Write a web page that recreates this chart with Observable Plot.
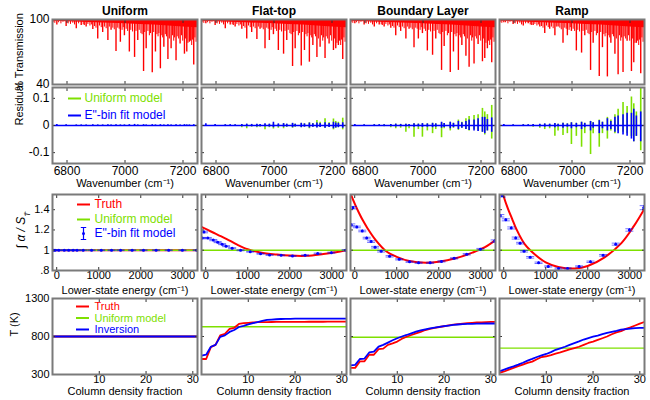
<!DOCTYPE html>
<html><head><meta charset="utf-8">
<script src="https://cdn.jsdelivr.net/npm/d3@7"></script>
<script src="https://cdn.jsdelivr.net/npm/@observablehq/plot@0.6"></script>
<style>
body{margin:0;background:#fff;}
#chart{position:relative;width:650px;height:400px;}
#chart svg{position:absolute;left:0;overflow:visible !important;background:transparent !important;}
</style></head><body><div id="chart"></div>
<script>
// ---------- categories / ticks ----------
const columns = ["Uniform", "Flat-top", "Boundary Layer", "Ramp"];
const wavenumberTicks = [6800, 7000, 7200];
const transmissionTicks = [40, 100];
const residualTicks = [-0.1, 0, 0.1];
const energyTicks = [0, 1000, 2000, 3000];
const ratioTicks = [0.8, 1, 1.2, 1.4];
const fractionTicks = [10, 20, 30];
const temperatureTicks = [300, 800, 1300];

// ---------- row 1: transmission spectra ----------
const linePositions = [6765, 6797, 6832, 6849, 6866, 6889, 6906, 6923, 6941, 6952, 6969, 6984, 6998, 7015, 7033, 7044, 7064, 7073, 7094, 7105, 7122, 7134, 7148, 7159, 7176, 7190, 7205, 7213, 7222, 7237];
const transUniform  = [95, 93.5, 91.4, 94.5, 93, 90.8, 82, 88, 80.6, 90, 70.5, 79, 85, 70, 65, 80.6, 52, 73, 50.8, 70, 54.5, 74.5, 63, 73, 62, 77.5, 68, 70, 79, 58];
const transFlatTop  = [96, 94.5, 91.4, 95, 93, 91, 82, 88, 81.5, 91, 73, 80.6, 86, 71.4, 68, 80.6, 56.6, 73, 57, 71.4, 60.6, 76, 65, 74.5, 64, 77.5, 71.4, 73, 76, 63];
const transBoundary = [96, 95, 93, 95, 93, 92, 85, 89, 82, 91, 74, 82, 87, 71, 67, 82, 53, 75, 51, 70, 53, 76, 66, 56, 59, 77, 61, 64, 73, 60];
const transRamp     = [97, 95.5, 94, 96, 94.5, 93, 87, 91, 85, 93, 78, 85, 89, 71, 69, 85, 53, 78, 47.5, 74, 47, 78, 68, 49, 51, 80, 52, 60, 78, 50];
const minorPositions = [6752, 6758, 6771, 6779, 6786, 6804, 6812, 6820, 6826, 6840, 6856, 6860, 6872, 6879, 6884, 6895, 6900, 6912, 6918, 6929, 6935, 6946, 6958, 6963, 6975, 6980, 6990, 6994, 7004, 7009, 7020, 7026, 7038, 7049, 7055, 7059, 7068, 7079, 7084, 7088, 7099, 7110, 7114, 7117, 7127, 7130, 7139, 7143, 7153, 7164, 7168, 7171, 7180, 7185, 7195, 7199, 7209, 7217, 7226, 7230, 7233, 7241, 7245];
const minorTrans = [97, 96.5, 97, 96, 97.5, 96, 95.5, 96.5, 95, 96, 95, 94.5, 95.5, 94, 95, 93.5, 92, 94, 92.5, 93, 91.5, 93, 92, 90.5, 92, 91, 90, 92.5, 91, 89, 90, 88.5, 89, 90, 87, 86, 88, 89, 85, 87, 88, 86, 84, 87, 85, 83, 86, 84, 82, 85, 80, 83, 84, 82, 85, 80, 82, 78, 80, 76, 81, 83, 79];
const bandWavenumber = [6750, 6800, 6850, 6900, 6950, 7000, 7050, 7100, 7150, 7200, 7250];
const bandTrans = [98.5, 98, 97.5, 97, 96.5, 96, 95.5, 95, 94, 93, 92.5];

// ---------- row 2: residuals (at the line positions) ----------
const greenHiUniform = [0.001,0.001,0.001,0.001,0.001,0.001,0.001,0.001,0.001,0.001,0.001,0.001,0.001,0.001,0.001,0.001,0.001,0.001,0.001,0.001,0.001,0.001,0.001,0.001,0.001,0.001,0.001,0.001,0.001,0.001];
const greenLoUniform = [-0.001,-0.001,-0.001,-0.001,-0.001,-0.001,-0.001,-0.001,-0.001,-0.001,-0.001,-0.001,-0.001,-0.001,-0.001,-0.001,-0.001,-0.001,-0.001,-0.001,-0.001,-0.001,-0.001,-0.001,-0.001,-0.001,-0.001,-0.001,-0.001,-0.001];
const blueHiUniform = [0.004,0.003,0.002,0.002,0.002,0.003,0.002,0.002,0.003,0.002,0.003,0.002,0.002,0.003,0.004,0.002,0.003,0.002,0.003,0.002,0.003,0.002,0.003,0.002,0.003,0.002,0.003,0.002,0.002,0.003];
const blueLoUniform = [-0.002,-0.002,-0.002,-0.002,-0.002,-0.002,-0.002,-0.002,-0.002,-0.002,-0.002,-0.002,-0.002,-0.002,-0.003,-0.002,-0.002,-0.002,-0.002,-0.002,-0.002,-0.002,-0.002,-0.002,-0.002,-0.002,-0.002,-0.002,-0.002,-0.002];
const greenHiFlatTop = [0.002,0.002,0.002,0.002,0.002,0.003,0.004,0.003,0.004,0.003,0.004,0.004,0.005,0.004,0.006,0.004,0.007,0.005,0.008,0.006,0.01,0.007,0.018,0.012,0.025,0.01,0.024,0.015,0.012,0.027];
const greenLoFlatTop = [-0.002,-0.003,-0.004,-0.003,-0.004,-0.008,-0.012,-0.006,-0.008,-0.006,-0.016,-0.008,-0.013,-0.01,-0.012,-0.007,-0.01,-0.006,-0.008,-0.006,-0.012,-0.006,-0.008,-0.006,-0.01,-0.006,-0.016,-0.01,-0.008,-0.016];
const blueHiFlatTop = [0.006,0.004,0.003,0.003,0.003,0.004,0.005,0.004,0.005,0.004,0.006,0.005,0.012,0.006,0.007,0.005,0.008,0.005,0.008,0.006,0.009,0.006,0.009,0.007,0.01,0.007,0.012,0.009,0.008,0.01];
const blueLoFlatTop = [-0.003,-0.003,-0.003,-0.003,-0.003,-0.004,-0.004,-0.004,-0.005,-0.004,-0.005,-0.005,-0.008,-0.005,-0.006,-0.005,-0.008,-0.005,-0.008,-0.006,-0.009,-0.006,-0.009,-0.007,-0.01,-0.007,-0.012,-0.009,-0.008,-0.01];
const greenHiBoundary = [0.002,0.002,0.003,0.002,0.003,0.004,0.005,0.004,0.005,0.004,0.006,0.005,0.006,0.006,0.008,0.006,0.01,0.007,0.012,0.008,0.02,0.012,0.025,0.033,0.037,0.04,0.063,0.05,0.04,0.074];
const greenLoBoundary = [-0.002,-0.003,-0.004,-0.003,-0.005,-0.008,-0.012,-0.01,-0.025,-0.012,-0.043,-0.015,-0.043,-0.02,-0.03,-0.015,-0.045,-0.012,-0.02,-0.01,-0.018,-0.01,-0.015,-0.02,-0.015,-0.02,-0.025,-0.035,-0.02,-0.05];
const blueHiBoundary = [0.004,0.003,0.003,0.003,0.003,0.004,0.005,0.004,0.005,0.004,0.006,0.005,0.007,0.006,0.008,0.006,0.012,0.007,0.012,0.008,0.015,0.01,0.015,0.02,0.02,0.025,0.03,0.03,0.022,0.028];
const blueLoBoundary = [-0.003,-0.003,-0.003,-0.003,-0.003,-0.004,-0.005,-0.004,-0.005,-0.004,-0.006,-0.005,-0.007,-0.006,-0.008,-0.006,-0.01,-0.007,-0.012,-0.008,-0.015,-0.01,-0.015,-0.018,-0.02,-0.022,-0.025,-0.03,-0.02,-0.025];
const greenHiRamp = [0.002,0.002,0.003,0.002,0.003,0.004,0.005,0.004,0.006,0.005,0.008,0.006,0.01,0.008,0.012,0.008,0.015,0.01,0.02,0.012,0.03,0.02,0.04,0.06,0.085,0.07,0.105,0.08,0.05,0.137];
const greenLoRamp = [-0.002,-0.003,-0.004,-0.003,-0.006,-0.01,-0.015,-0.012,-0.04,-0.02,-0.037,-0.03,-0.07,-0.04,-0.08,-0.03,-0.107,-0.03,-0.08,-0.03,-0.05,-0.02,-0.03,-0.02,-0.025,-0.03,-0.04,-0.06,-0.04,-0.093];
const blueHiRamp = [0.004,0.003,0.003,0.003,0.004,0.005,0.006,0.005,0.007,0.005,0.008,0.006,0.01,0.008,0.012,0.008,0.015,0.01,0.018,0.012,0.025,0.015,0.03,0.035,0.04,0.045,0.045,0.06,0.035,0.05];
const blueLoRamp = [-0.003,-0.003,-0.003,-0.003,-0.004,-0.005,-0.006,-0.005,-0.008,-0.005,-0.01,-0.006,-0.012,-0.008,-0.015,-0.008,-0.02,-0.01,-0.03,-0.012,-0.02,-0.015,-0.025,-0.03,-0.035,-0.04,-0.05,-0.06,-0.04,-0.06];

// ---------- row 3: line strength ratio vs lower-state energy ----------
const energyBins = [-40, -80, 50, 180, 285, 390, 485, 630, 830, 1060, 1305, 1520, 1795, 2065, 2365, 2665, 2990, 3330];
const ratioUniform  = [1, 1, 1, 1, 1, 1, 1, 1, 1, 1, 1, 1, 1, 1, 1, 1, 1, 1];
const ratioFlatTop  = [1.18, 1.12, 1.12, 1.10, 1.08, 1.06, 1.04, 1.02, 1.00, 0.985, 0.965, 0.953, 0.95, 0.943, 0.95, 0.967, 0.976, 1.0];
const ratioBoundary = [1.42, 1.25, 1.23, 1.19, 1.12, 1.085, 1.03, 0.99, 0.94, 0.91, 0.886, 0.876, 0.876, 0.89, 0.92, 0.96, 1.01, 1.09];
const ratioRamp     = [1.54, 1.34, 1.30, 1.22, 1.12, 1.07, 0.99, 0.93, 0.876, 0.84, 0.82, 0.82, 0.84, 0.886, 0.95, 1.06, 1.20, 1.42];
const errUniform  = [0.004, 0.004, 0.004, 0.004, 0.004, 0.004, 0.004, 0.004, 0.004, 0.004, 0.004, 0.004, 0.004, 0.004, 0.004, 0.004, 0.004, 0.004];
const errFlatTop  = [0.008, 0.006, 0.006, 0.006, 0.005, 0.005, 0.005, 0.005, 0.005, 0.004, 0.004, 0.004, 0.004, 0.004, 0.004, 0.005, 0.005, 0.006];
const errBoundary = [0.012, 0.01, 0.008, 0.008, 0.008, 0.008, 0.008, 0.008, 0.007, 0.006, 0.006, 0.006, 0.006, 0.006, 0.006, 0.007, 0.008, 0.012];
const errRamp     = [0.015, 0.012, 0.01, 0.01, 0.01, 0.008, 0.008, 0.008, 0.007, 0.006, 0.006, 0.006, 0.006, 0.007, 0.008, 0.01, 0.012, 0.02];
const truthEnergy = [-100, 0, 100, 200, 300, 500, 750, 1000, 1300, 1700, 2000, 2400, 2800, 3100, 3350];
const truthRatioUniform  = [1, 1, 1, 1, 1, 1, 1, 1, 1, 1, 1, 1, 1, 1, 1];
const truthRatioFlatTop  = [1.23, 1.21, 1.19, 1.17, 1.15, 1.11, 1.055, 1.01, 0.978, 0.957, 0.947, 0.945, 0.963, 0.98, 1.0];
const truthRatioBoundary = [1.56, 1.46, 1.37, 1.29, 1.22, 1.10, 0.99, 0.935, 0.893, 0.876, 0.886, 0.92, 0.976, 1.03, 1.10];
const truthRatioRamp     = [1.68, 1.53, 1.41, 1.31, 1.21, 1.06, 0.955, 0.88, 0.835, 0.82, 0.845, 0.93, 1.07, 1.24, 1.41];
const uniformModelRatio = [1, 1, 1, 1];

// ---------- row 4: temperature profiles ----------
const columnFraction = [0, 1, 2, 3, 4, 5, 6, 7, 8, 9, 10, 11, 12, 13, 14, 15, 16, 17, 18, 19, 20, 21, 22, 23, 24, 25, 26, 27, 28, 29, 30, 31];
const truthTUniform  = [800, 800, 800, 800, 800, 800, 800, 800, 800, 800, 800, 800, 800, 800, 800, 800, 800, 800, 800, 800, 800, 800, 800, 800, 800, 800, 800, 800, 800, 800, 800, 800];
const invTUniform    = [800, 800, 800, 800, 800, 800, 800, 800, 800, 800, 800, 800, 800, 800, 800, 800, 800, 800, 800, 800, 800, 800, 800, 800, 800, 800, 800, 800, 800, 800, 800, 800];
const truthTFlatTop  = [504, 504, 660, 690, 815, 835, 900, 915, 965, 975, 980, 985, 988, 990, 990, 991, 992, 992, 992, 993, 993, 993, 993, 994, 994, 994, 994, 995, 995, 995, 995, 995];
const invTFlatTop    = [547, 560, 665, 690, 795, 815, 860, 885, 925, 940, 960, 975, 990, 1005, 1018, 1023, 1027, 1030, 1032, 1033, 1034, 1035, 1035, 1036, 1036, 1036, 1036, 1036, 1036, 1036, 1036, 1036];
const truthTBoundary = [387, 387, 473, 473, 560, 560, 634, 640, 690, 710, 733, 770, 797, 820, 841, 860, 885, 900, 912, 925, 935, 945, 955, 962, 968, 975, 980, 984, 987, 990, 992, 993];
const invTBoundary   = [421, 426, 504, 510, 590, 600, 668, 690, 720, 750, 777, 800, 820, 842, 863, 880, 895, 906, 918, 928, 936, 944, 952, 958, 962, 965, 967, 969, 970, 971, 971, 971];
const truthTRamp     = [322, 340, 365, 387, 410, 430, 452, 470, 500, 530, 540, 555, 575, 590, 610, 630, 647, 665, 690, 715, 733, 755, 777, 800, 830, 855, 870, 900, 920, 945, 970, 992];
const invTRamp       = [343, 365, 388, 408, 430, 455, 482, 505, 530, 552, 570, 595, 625, 645, 665, 690, 712, 735, 760, 780, 797, 812, 830, 848, 862, 875, 890, 898, 905, 910, 913, 915];
const uniformModelT = [800, 928, 790, 647];

// ---------- tidy tables built from the arrays ----------
const transByCol = [transUniform, transFlatTop, transBoundary, transRamp];
const spectrum = columns.flatMap((c, j) => linePositions.map((w, i) => ({col: c, wn: w, t: transByCol[j][i]})));
const minorLines = columns.flatMap(c => minorPositions.map((w, i) => ({col: c, wn: w, t: minorTrans[i]})));
const band = columns.flatMap(c => bandWavenumber.map((w, i) => ({col: c, wn: w, t: bandTrans[i]})));
const resid = [
  [greenHiUniform, greenLoUniform, blueHiUniform, blueLoUniform],
  [greenHiFlatTop, greenLoFlatTop, blueHiFlatTop, blueLoFlatTop],
  [greenHiBoundary, greenLoBoundary, blueHiBoundary, blueLoBoundary],
  [greenHiRamp, greenLoRamp, blueHiRamp, blueLoRamp]
];
const residuals = columns.flatMap((c, j) => linePositions.map((w, i) => ({col: c, wn: w, gHi: resid[j][0][i], gLo: resid[j][1][i], bHi: resid[j][2][i], bLo: resid[j][3][i]})));
const ratioByCol = [ratioUniform, ratioFlatTop, ratioBoundary, ratioRamp];
const errByCol = [errUniform, errFlatTop, errBoundary, errRamp];
const ratioPoints = columns.flatMap((c, j) => energyBins.map((e, i) => ({col: c, e, r: ratioByCol[j][i], lo: ratioByCol[j][i] - errByCol[j][i], hi: ratioByCol[j][i] + errByCol[j][i]})));
const truthRatioByCol = [truthRatioUniform, truthRatioFlatTop, truthRatioBoundary, truthRatioRamp];
const truthRatio = columns.flatMap((c, j) => truthEnergy.map((e, i) => ({col: c, e, r: truthRatioByCol[j][i]})));
const uniformRatioRows = columns.map((c, j) => ({col: c, r: uniformModelRatio[j]}));
const truthTByCol = [truthTUniform, truthTFlatTop, truthTBoundary, truthTRamp];
const invTByCol = [invTUniform, invTFlatTop, invTBoundary, invTRamp];
const temps = columns.flatMap((c, j) => columnFraction.map((f, i) => ({col: c, f, truth: truthTByCol[j][i], inv: invTByCol[j][i]})));
const uniformTRows = columns.map((c, j) => ({col: c, t: uniformModelT[j]}));

// ---------- styling ----------
const RED = "#ff0000", GREEN = "#7ee000", BLUE = "#0000ff", FRAME = "#7a7a7a";
const FONT = '"Liberation Sans", Arial, Helvetica, sans-serif';
const style = {fontFamily: FONT, fontSize: "12px", background: "transparent", overflow: "visible", color: "#000"};
const fx = {domain: columns, paddingInner: 0.025, paddingOuter: 0, axis: null};
const hLine = {draw(ctx, size) { const w = Math.sqrt(size / Math.PI); ctx.moveTo(-w, 0); ctx.lineTo(w, 0); }};
const errGlyph = {draw(ctx, size) { const w = Math.sqrt(size / Math.PI); ctx.moveTo(0, -w); ctx.lineTo(0, w); ctx.moveTo(-w * 0.45, -w); ctx.lineTo(w * 0.45, -w); ctx.moveTo(-w * 0.45, w); ctx.lineTo(w * 0.45, w); }};
const first = [columns[0]];
const plain = d => String(d);

function innerTicks(xTicks, yTicks) {
  const s = {stroke: "#333", strokeWidth: 1, tickSize: 3, label: null, fill: "none", tickFormat: () => ""};
  return [
    Plot.axisX({...s, anchor: "bottom", ticks: xTicks, dy: -3}),
    Plot.axisX({...s, anchor: "top", ticks: xTicks, dy: 3}),
    Plot.axisY({...s, anchor: "left", ticks: yTicks, dx: 3, facetAnchor: null}),
    Plot.axisY({...s, anchor: "right", ticks: yTicks, dx: -3, facetAnchor: null})
  ];
}
function legendLine(color, dx, dy, label, tdx, fontSize = 12) {
  return [
    Plot.dot(first, {fx: d => d, frameAnchor: "top-left", dx, dy, symbol: hLine, r: 6.5, stroke: color, strokeWidth: 2, fill: "none"}),
    Plot.text(first, {fx: d => d, text: () => label, frameAnchor: "top-left", dx: tdx, dy, fill: color, textAnchor: "start", lineAnchor: "middle", fontSize})
  ];
}
function xLabel(text, dy) {
  return Plot.text(columns, {fx: d => d, text: () => text, frameAnchor: "bottom", lineAnchor: "top", dy, fontSize: 11});
}
function yLabel(text, dx, dy = 0) {
  return Plot.text(first, {fx: d => d, text: () => text, frameAnchor: "left", rotate: -90, dx, dy, fontSize: 11});
}
const frame = () => Plot.frame({stroke: FRAME, strokeWidth: 2});

// ---------- row 1 ----------
const row1 = Plot.plot({
  width: 650, height: 96, marginLeft: 51, marginRight: 4, marginTop: 19, marginBottom: 12,
  fx, style,
  x: {domain: [6750, 7250]},
  y: {domain: [40, 100]},
  marks: [
    Plot.areaY(band, {fx: "col", x: "wn", y1: 100, y2: "t", fill: RED, clip: true}),
    Plot.ruleX(minorLines, {fx: "col", x: "wn", y1: 100, y2: "t", stroke: RED, strokeWidth: 1, clip: true}),
    Plot.ruleX(spectrum, {fx: "col", x: "wn", y1: 100, y2: "t", stroke: RED, strokeWidth: 1.4, clip: true}),
    ...innerTicks(wavenumberTicks, transmissionTicks),
    Plot.axisY({anchor: "left", ticks: transmissionTicks, tickSize: 0, tickPadding: 3, label: null, tickFormat: plain}),
    frame(),
    Plot.text(columns, {fx: d => d, text: d => d, frameAnchor: "top", dy: -8, fontWeight: "bold", lineAnchor: "middle", fontSize: 12})
  ]
});
d3.select(row1).append("text")
  .attr("transform", "translate(19,52) rotate(-90)")
  .attr("text-anchor", "middle").attr("dominant-baseline", "central")
  .attr("font-family", FONT).attr("font-size", 11).attr("fill", "#000")
  .text("% Transmission");

// ---------- row 2 ----------
const row2 = Plot.plot({
  width: 650, height: 108, marginLeft: 51, marginRight: 4, marginTop: 2, marginBottom: 30,
  fx, style,
  x: {domain: [6750, 7250]},
  y: {domain: [-0.14, 0.14]},
  marks: [
    Plot.ruleX(residuals, {fx: "col", x: "wn", y1: "gLo", y2: "gHi", stroke: GREEN, strokeWidth: 1.6, clip: true}),
    Plot.ruleY([0], {y: d => d, stroke: BLUE, strokeWidth: 1.6}),
    Plot.ruleX(residuals, {fx: "col", x: "wn", y1: "bLo", y2: "bHi", stroke: BLUE, strokeWidth: 1.6, clip: true}),
    ...innerTicks(wavenumberTicks, residualTicks),
    Plot.axisY({anchor: "left", ticks: residualTicks, tickSize: 0, tickPadding: 3, label: null, tickFormat: plain}),
    Plot.axisX({anchor: "bottom", ticks: wavenumberTicks, tickSize: 0, tickPadding: 3, label: null, tickFormat: plain}),
    frame(),
    ...legendLine(GREEN, 22, 11, "Uniform model", 32),
    ...legendLine(BLUE, 22, 28, "E\"-bin fit model", 32),
    xLabel("Wavenumber (cm⁻¹)", 16),
    yLabel("Residual", -33)
  ]
});

// ---------- row 3 ----------
const row3 = Plot.plot({
  width: 650, height: 108, marginLeft: 51, marginRight: 4, marginTop: 4, marginBottom: 28,
  fx, style: {...style, fontSize: "11px"},
  x: {domain: [-100, 3350]},
  y: {domain: [0.8, 1.55]},
  marks: [
    Plot.line(truthRatio, {fx: "col", x: "e", y: "r", stroke: RED, strokeWidth: 2, curve: "catmull-rom", clip: true}),
    Plot.ruleY(uniformRatioRows, {fx: "col", y: "r", stroke: GREEN, strokeWidth: 1.3}),
    Plot.ruleX(ratioPoints, {fx: "col", x: "e", y1: "lo", y2: "hi", stroke: BLUE, strokeWidth: 1, clip: true}),
    Plot.dot(ratioPoints, {fx: "col", x: "e", y: "lo", symbol: hLine, r: 4, stroke: BLUE, strokeOpacity: 0.55, strokeWidth: 1, fill: "none", clip: true}),
    Plot.dot(ratioPoints, {fx: "col", x: "e", y: "hi", symbol: hLine, r: 4, stroke: BLUE, strokeOpacity: 0.55, strokeWidth: 1, fill: "none", clip: true}),
    Plot.dot(ratioPoints, {fx: "col", x: "e", y: "r", r: 1.5, fill: BLUE, stroke: "none", clip: true}),
    ...innerTicks(energyTicks, ratioTicks),
    Plot.axisY({anchor: "left", ticks: ratioTicks, tickSize: 0, tickPadding: 3, label: null, tickFormat: d => d === 0.8 ? ".8" : String(d)}),
    Plot.axisX({anchor: "bottom", ticks: energyTicks, tickSize: 0, tickPadding: 1, label: null, tickFormat: plain}),
    frame(),
    ...legendLine(RED, 31, 10, "Truth", 42),
    ...legendLine(GREEN, 31, 25, "Uniform model", 42),
    Plot.dot(first, {fx: d => d, frameAnchor: "top-left", dx: 31, dy: 39, symbol: errGlyph, r: 6, stroke: BLUE, strokeWidth: 1.2, fill: "none"}),
    Plot.dot(first, {fx: d => d, frameAnchor: "top-left", dx: 31, dy: 39, r: 1.5, fill: BLUE}),
    Plot.text(first, {fx: d => d, text: () => "E\"-bin fit model", frameAnchor: "top-left", dx: 42, dy: 39, fill: BLUE, textAnchor: "start", lineAnchor: "middle", fontSize: 12}),
    xLabel("Lower-state energy (cm⁻¹)", 16)
  ]
});
{
  const lab = d3.select(row3).append("text")
    .attr("transform", "translate(25,40) rotate(-90)")
    .attr("text-anchor", "middle").attr("font-family", FONT).attr("font-size", 12).attr("fill", "#000");
  lab.append("tspan").text("∫");
  lab.append("tspan").attr("font-style", "italic").text(" α / S");
  lab.append("tspan").attr("baseline-shift", "sub").attr("font-size", 8).attr("font-style", "italic").text("T̄");
}

// ---------- row 4 ----------
const row4 = Plot.plot({
  width: 650, height: 106, marginLeft: 51, marginRight: 4, marginTop: 4, marginBottom: 26,
  fx, style: {...style, fontSize: "11px"},
  x: {domain: [0, 31]},
  y: {domain: [300, 1300]},
  marks: [
    Plot.ruleY(uniformTRows, {fx: "col", y: "t", stroke: GREEN, strokeWidth: 1.3}),
    Plot.line(temps, {fx: "col", x: "f", y: "truth", stroke: RED, strokeWidth: 1.8, clip: true}),
    Plot.line(temps, {fx: "col", x: "f", y: "inv", stroke: BLUE, strokeWidth: 1.8, clip: true}),
    ...innerTicks(fractionTicks, temperatureTicks),
    Plot.axisY({anchor: "left", ticks: temperatureTicks, tickSize: 0, tickPadding: 3, label: null, tickFormat: plain}),
    Plot.axisX({anchor: "bottom", ticks: fractionTicks, tickSize: 0, tickPadding: 1, label: null, tickFormat: plain}),
    frame(),
    ...legendLine(RED, 30, 8, "Truth", 42, 11),
    ...legendLine(GREEN, 30, 19.5, "Uniform model", 42, 11),
    ...legendLine(BLUE, 30, 31, "Inversion", 42, 11),
    xLabel("Column density fraction", 13),
    yLabel("T (K)", -38)
  ]
});

const chart = document.getElementById("chart");
[[row1, 0], [row2, 85], [row3, 190], [row4, 294]].forEach(([svg, top]) => {
  svg.style.position = "absolute";
  svg.style.left = "0px";
  svg.style.top = top + "px";
  chart.appendChild(svg);
});
</script></body></html>
